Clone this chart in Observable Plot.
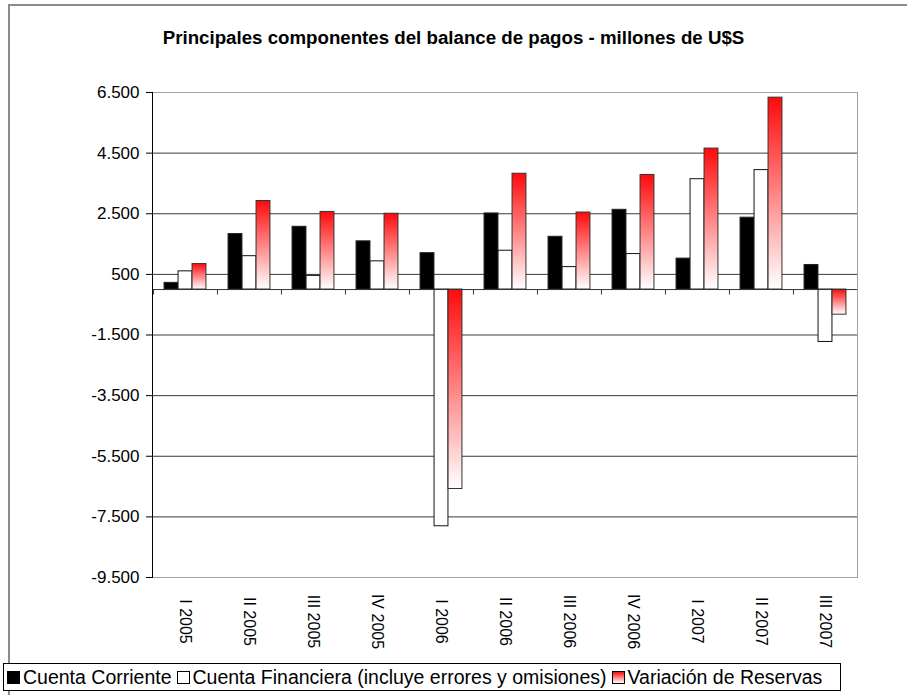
<!DOCTYPE html>
<html>
<head>
<meta charset="utf-8">
<script src="https://cdn.jsdelivr.net/npm/d3@7"></script>
<script src="https://cdn.jsdelivr.net/npm/@observablehq/plot@0.6"></script>
<style>
  html, body { margin: 0; padding: 0; background: #fff; }
  #wrap { position: relative; width: 907px; height: 695px; overflow: hidden; font-family: "Liberation Sans", Arial, sans-serif; }
  #frame { position: absolute; left: 8px; top: 4px; width: 920px; height: 700px; border-top: 2px solid #8c8c8c; border-left: 2px solid #8c8c8c; box-sizing: border-box; }
  #chart { position: absolute; left: 0; top: 0; }
  #title { position: absolute; left: 0; width: 907px; top: 27px; text-align: center; font-weight: bold; font-size: 18.7px; color: #000; }
  #legend { position: absolute; left: 3px; top: 663px; width: 838px; height: 28px; border: 1px solid #000; box-sizing: border-box; background: #fff;
            display: flex; align-items: center; font-size: 19.5px; color: #000; white-space: nowrap; padding-left: 3px; }
  .sw { display: inline-block; width: 11px; height: 11px; border: 1px solid #000; margin-right: 3px; box-sizing: content-box; }
  .item { display: inline-flex; align-items: center; margin-right: 5px; }
</style>
</head>
<body>
<div id="wrap">
  <div id="frame"></div>
  <div id="chart"></div>
  <div id="title"></div>
  <div id="legend"></div>
</div>
<script>
// ---- data ----
const categories = ["I 2005","II 2005","III 2005","IV 2005","I 2006","II 2006","III 2006","IV 2006","I 2007","II 2007","III 2007"];
const cuentaCorriente   = [220, 1830, 2070, 1590, 1200, 2510, 1740, 2630, 1020, 2370, 810];
const cuentaFinanciera  = [600, 1100, 450, 930, -7810, 1280, 740, 1170, 3640, 3940, -1730];
const variacionReservas = [840, 2920, 2560, 2500, -6580, 3820, 2540, 3780, 4650, 6330, -830];
const seriesNames = ["Cuenta Corriente", "Cuenta Financiera (incluye errores y omisiones)", "Variación de Reservas"];
const yTicks = [-9500, -7500, -5500, -3500, -1500, 500, 2500, 4500, 6500];
const titleText = "Principales componentes del balance de pagos - millones de U$S";

// ---- layout / style ----
const W = 907, H = 660, ML = 152, MR = 50, MT = 92, MB = 83;
const bw = (W - ML - MR) / categories.length;
const barW = 14;
const pad = (bw - 3 * barW) / 2;
const styles = [
  {fill: "#000", stroke: "#222"},
  {fill: "#fff", stroke: "#111"},
  {fill: "url(#redGrad)", stroke: "#333"}
];
const fmt = d3.formatLocale({decimal: ",", thousands: ".", grouping: [3], currency: ["$", ""], minus: "-"}).format(",");

const seriesValues = [cuentaCorriente, cuentaFinanciera, variacionReservas];
const barMarks = seriesValues.map((vals, k) =>
  Plot.barY(categories.map((c, i) => ({cat: c, value: vals[i]})), {
    x: "cat", y: "value",
    fill: styles[k].fill, stroke: styles[k].stroke, strokeWidth: 1,
    insetLeft: pad + k * barW, insetRight: bw - pad - (k + 1) * barW
  })
);

const chart = Plot.plot({
  width: W, height: H,
  marginLeft: ML, marginRight: MR, marginTop: MT, marginBottom: MB,
  style: {fontFamily: "'Liberation Sans', Arial, sans-serif", background: "transparent", color: "#000"},
  x: {type: "band", domain: categories, padding: 0, axis: null, label: null},
  y: {domain: [-9500, 6500], axis: null, label: null},
  marks: [
    Plot.gridY(yTicks, {stroke: "#3a3a3a", strokeOpacity: 1}),
    Plot.frame({stroke: "#a0a0a0"}),
    ...barMarks,
    Plot.ruleY([0], {stroke: "#333"}),
    Plot.ruleX(categories, {x: d => d, y1: 0, y2: -180, dx: -bw / 2, stroke: "#333"}),
    Plot.frame({anchor: "left", stroke: "#000"}),
    Plot.axisY(yTicks, {tickFormat: fmt, tickSize: 6, tickPadding: 7, fontSize: 17, stroke: "#000", label: null}),
    Plot.text(categories, {x: d => d, frameAnchor: "bottom", dy: 44, dx: -6, rotate: 90, textAnchor: "middle", fontSize: 16, fill: "#000"})
  ]
});

d3.select(chart).insert("defs", ":first-child").html(
  '<linearGradient id="redGrad" x1="0" y1="0" x2="0" y2="1">' +
  '<stop offset="0" stop-color="#ff0a0a"/>' +
  '<stop offset="1" stop-color="#ffffff"/>' +
  '</linearGradient>'
);
document.getElementById("chart").appendChild(chart);

document.getElementById("title").textContent = titleText;

const legend = document.getElementById("legend");
const swStyles = [
  "background:#000;",
  "background:#fff;",
  "background:linear-gradient(to bottom,#ff0a0a,#ffffff);"
];
seriesNames.forEach((name, k) => {
  const item = document.createElement("span");
  item.className = "item";
  const sw = document.createElement("span");
  sw.className = "sw";
  sw.style.cssText = swStyles[k];
  item.appendChild(sw);
  item.appendChild(document.createTextNode(name));
  legend.appendChild(item);
});
</script>
</body>
</html>
